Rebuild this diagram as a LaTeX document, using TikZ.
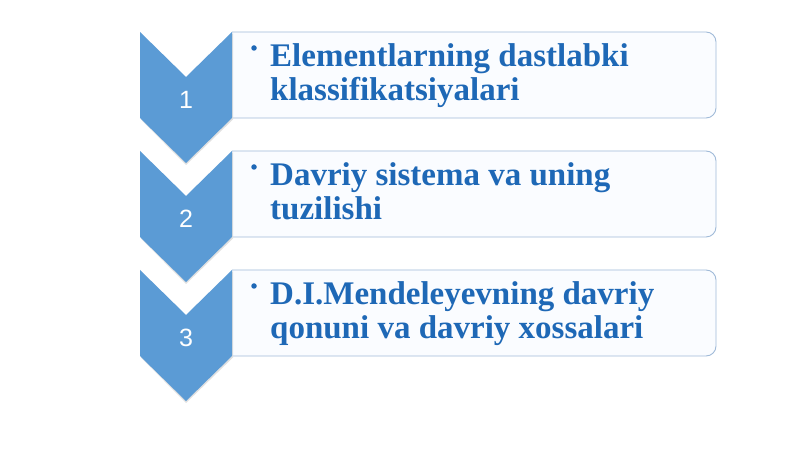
\documentclass[tikz,border=0pt]{standalone}
\usepackage{fontspec}
\setmainfont{Liberation Serif}
\newfontfamily\numfont{Liberation Sans}
\definecolor{chev}{RGB}{91,155,213}
\definecolor{txtblue}{RGB}{30,104,182}
\definecolor{boxline}{RGB}{160,186,216}
\definecolor{boxfill}{RGB}{250,252,255}
\begin{document}
\begin{tikzpicture}[x=1pt,y=1pt,
  chevron/.style={fill=chev,draw=none},
  stepboxshape/.style={fill=boxfill,draw=boxline,line width=0.9pt},
  numlabel/.style={text=white,font=\numfont\fontsize{25}{25}\selectfont,inner sep=0pt},
  itemtext/.style={text=txtblue,font=\bfseries\fontsize{33}{35}\selectfont,inner sep=0pt,anchor=base west},
  bulletdot/.style={circle,fill=txtblue,inner sep=0pt,minimum size=5.5pt}
]
\useasboundingbox (0,0) rectangle (800,449);
\fill[white] (0,0) rectangle (800,449);
\foreach \T/\n in {417/1,298/2,179/3}{
  \draw[stepboxshape] (232,\T) -- (706,\T) arc[start angle=90,end angle=0,radius=10]
     -- (716,\T-76) arc[start angle=0,end angle=-90,radius=10] -- (232,\T-86);
  \fill[black!12] (141,\T-1.5) -- (186,\T-46.5) -- (233,\T-1.5) -- (233,\T-87.5) -- (186,\T-133) -- (141,\T-87.5) -- cycle;
  \fill[chevron] (140,\T) -- (186,\T-45) -- (232,\T) -- (232,\T-86) -- (186,\T-131) -- (140,\T-86) -- cycle;
  \node[numlabel] (num\n) at (186,\T-68) {\n};
  \node[bulletdot] (bul\n) at (254,\T-16) {};
}
\node[itemtext] (t1a) at (270,382) {Elementlarning dastlabki};
\node[itemtext] (t1b) at (270,348) {klassifikatsiyalari};
\node[itemtext] (t2a) at (270,263) {Davriy sistema va uning};
\node[itemtext] (t2b) at (270,229) {tuzilishi};
\node[itemtext] (t3a) at (270,144) {D.I.Mendeleyevning davriy};
\node[itemtext] (t3b) at (270,110) {qonuni va davriy xossalari};
\end{tikzpicture}
\end{document}
